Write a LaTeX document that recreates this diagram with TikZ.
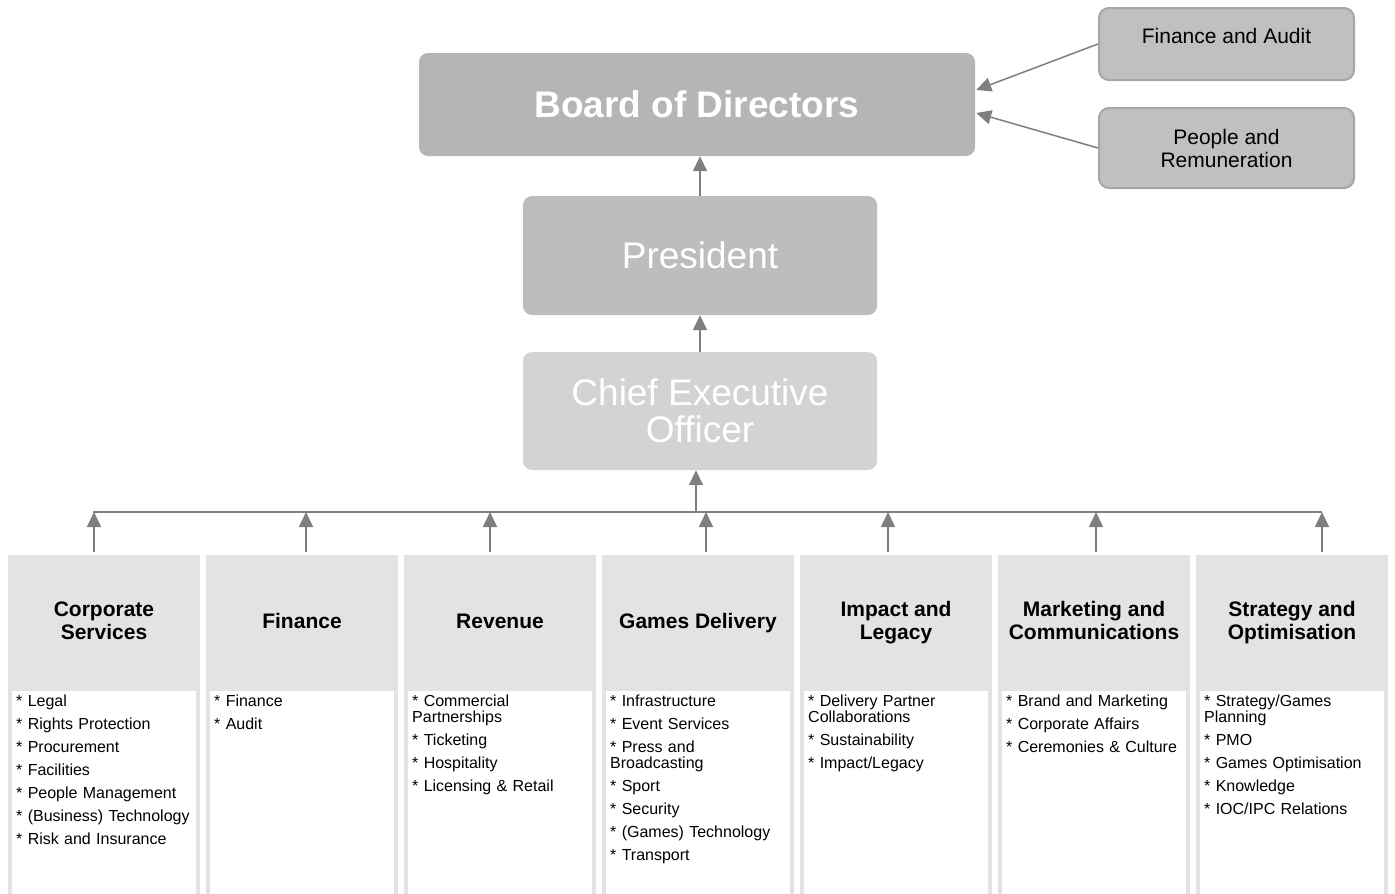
\documentclass[tikz,border=0pt]{standalone}
\usepackage{fontspec}
\setmainfont{Liberation Sans}
\usetikzlibrary{arrows.meta,calc}
\definecolor{boardgray}{HTML}{B5B5B5}
\definecolor{presgray}{HTML}{BDBDBD}
\definecolor{ceogray}{HTML}{D3D3D3}
\definecolor{comfill}{HTML}{C0C0C0}
\definecolor{comline}{HTML}{A6A6A6}
\definecolor{hdgray}{HTML}{E3E3E3}
\definecolor{arrgray}{HTML}{7F7F7F}
\hyphenpenalty=10000
\exhyphenpenalty=10000
\begin{document}
\begin{tikzpicture}[x=1pt,y=-1pt,
  execbox/.style={rectangle, rounded corners=9pt, inner sep=0pt, minimum width=354pt, text=white, align=center, font=\fontsize{37}{37}\selectfont},
  combox/.style={rectangle, rounded corners=10pt, fill=comfill, draw=comline, line width=2pt, minimum width=255pt, inner sep=0pt, align=center, font=\fontsize{21}{23}\selectfont},
  comtext/.style={inner sep=0pt, align=center, font=\fontsize{21}{23}\selectfont},
  hdbox/.style={rectangle, fill=hdgray, minimum width=192pt, minimum height=132pt, inner sep=0pt},
  hdtext/.style={anchor=base, inner sep=0pt, align=center, font=\bfseries\fontsize{21}{23}\selectfont},
  listbox/.style={rectangle, fill=white, draw=hdgray, line width=3.5pt, minimum width=188pt, minimum height=216pt, inner sep=0pt},
  listtext/.style={anchor=base west, inner sep=0pt, text width=177pt, align=left, font=\fontsize{16}{16}\selectfont},
  arr/.style={draw=arrgray, line width=1.5pt, -{Triangle[width=14pt,length=15pt]}, arrgray},
  busline/.style={draw=arrgray, line width=1.5pt}
]
\useasboundingbox (0,0) rectangle (1395,894);

% top boxes
\node[execbox, fill=boardgray, minimum width=556pt, minimum height=103pt, font=\bfseries\fontsize{37}{37}\selectfont] (board) at (697,104.5) {Board of Directors};
\node[execbox, fill=presgray, minimum height=119pt] (pres) at (700,255.5) {President};
\node[execbox, fill=ceogray, minimum height=118pt] (ceo) at (700,411) {Chief Executive\\Officer};

% committees
\node[combox, minimum height=72pt] (fa) at (1226.5,44) {};
\node[comtext] (fatext) at (1226.5,35.5) {Finance and Audit};
\node[combox, minimum height=80pt] (pr) at (1226.5,148) {People and\\Remuneration};

\draw[arr] (fa.west) -- ($(board.east)+(1,-14.5)$);
\draw[arr] (pr.west) -- ($(board.east)+(1,8.5)$);
\draw[arr] (pres.north) -- (pres.north |- board.south);
\draw[arr] (pres.south |- ceo.north) -- (pres.south);

% bus
\coordinate (busL) at (93,512);
\coordinate (busR) at (1322,512);
\coordinate (busC) at (696,512);
\draw[busline] (busL) -- (busR);
\draw[arr] (busC) -- (busC |- ceo.south);

% columns
\node[hdbox] (h1) at (104,621) {};
\node[hdbox] (h2) at (302,621) {};
\node[hdbox] (h3) at (500,621) {};
\node[hdbox] (h4) at (698,621) {};
\node[hdbox] (h5) at (896,621) {};
\node[hdbox] (h6) at (1094,621) {};
\node[hdbox] (h7) at (1292,621) {};
\node[hdtext] (ht1) at (104,639.5) {Corporate\\Services};
\node[hdtext] (ht2) at (302,628.5) {Finance};
\node[hdtext] (ht3) at (500,628.5) {Revenue};
\node[hdtext] (ht4) at (698,628.5) {Games Delivery};
\node[hdtext] (ht5) at (896,639.5) {Impact and\\Legacy};
\node[hdtext] (ht6) at (1094,639.5) {Marketing and\\Communications};
\node[hdtext] (ht7) at (1292,639.5) {Strategy and\\Optimisation};

\node[listbox] (b1) at (104,797) {};
\node[listbox] (b2) at (302,797) {};
\node[listbox] (b3) at (500,797) {};
\node[listbox] (b4) at (698,797) {};
\node[listbox] (b5) at (896,797) {};
\node[listbox] (b6) at (1094,797) {};
\node[listbox] (b7) at (1292,797) {};

\node[listtext] (t1) at (16,706.5) {* Legal\\[7pt]* Rights Protection\\[7pt]* Procurement\\[7pt]* Facilities\\[7pt]* People Management\\[7pt]* (Business) Technology\\[7pt]* Risk and Insurance};
\node[listtext] (t2) at (214,706.5) {* Finance\\[7pt]* Audit};
\node[listtext] (t3) at (412,706.5) {* Commercial Partnerships\\[7pt]* Ticketing\\[7pt]* Hospitality\\[7pt]* Licensing \& Retail};
\node[listtext] (t4) at (610,706.5) {* Infrastructure\\[7pt]* Event Services\\[7pt]* Press and Broadcasting\\[7pt]* Sport\\[7pt]* Security\\[7pt]* (Games) Technology\\[7pt]* Transport};
\node[listtext] (t5) at (808,706.5) {* Delivery Partner Collaborations\\[7pt]* Sustainability\\[7pt]* Impact/Legacy};
\node[listtext] (t6) at (1006,706.5) {* Brand and Marketing\\[7pt]* Corporate Affairs\\[7pt]* Ceremonies \& Culture};
\node[listtext] (t7) at (1204,706.5) {* Strategy/Games Planning\\[7pt]* PMO\\[7pt]* Games Optimisation\\[7pt]* Knowledge\\[7pt]* IOC/IPC Relations};

% column arrows to bus
\coordinate (c1) at (94,552);
\coordinate (c2) at (306,552);
\coordinate (c3) at (490,552);
\coordinate (c4) at (706,552);
\coordinate (c5) at (888,552);
\coordinate (c6) at (1096,552);
\coordinate (c7) at (1322,552);
\foreach \i in {1,...,7} {
  \draw[arr] (c\i) -- (c\i |- busL);
}
\end{tikzpicture}
\end{document}
